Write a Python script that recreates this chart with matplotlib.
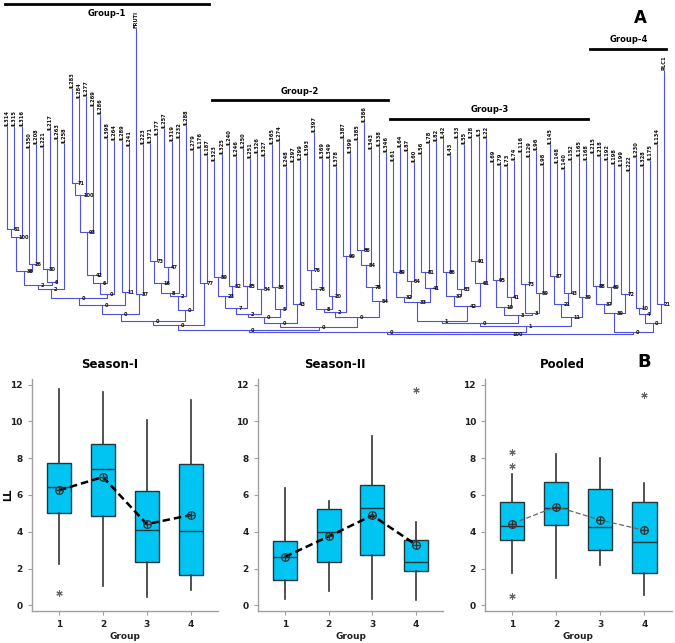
import matplotlib
matplotlib.use("Agg")
import matplotlib.pyplot as plt

# ---- dendrogram data (panel A) ----
leaf_names = ["IL314", "IL315", "IL316", "IL350", "IL208", "IL221", "IL217", "IL263", "IL258",
              "IL283", "IL284", "IL277", "IL269", "IL286", "IL398", "IL264", "IL289", "IL241",
              "FRUTI", "IL223", "IL371", "IL377", "IL257", "IL319", "IL232", "IL288", "IL279",
              "IL176", "IL187", "IL323", "IL325", "IL240", "IL246", "IL250", "IL251", "IL326",
              "IL327", "IL365", "IL274", "IL248", "IL297", "IL299", "IL393", "IL397", "IL369",
              "IL349", "IL378", "IL387", "IL399", "IL385", "IL386", "IL343", "IL338", "IL346",
              "IL61", "IL64", "IL87", "IL60", "IL56", "IL78", "IL82", "IL42", "IL43", "IL33",
              "IL55", "IL28", "IL3", "IL22", "IL69", "IL79", "IL73", "IL74", "IL116", "IL129",
              "IL96", "IL98", "IL145", "IL148", "IL140", "IL152", "IL165", "IL168", "IL215",
              "IL218", "IL192", "IL198", "IL199", "IL222", "IL230", "IL328", "IL175", "IL134",
              "RLC1"]
# depth of each leaf tip, measured down from the top of the panel
leaf_depth = [127, 127, 127, 149, 145, 148, 131, 140, 144,
              89, 99, 97, 107, 115, 139, 141, 141, 147,
              29, 145, 144, 136, 129, 142, 139, 126, 151,
              149, 156, 162, 155, 146, 157, 149, 159, 154,
              157, 145, 142, 167, 163, 161, 156, 133, 159,
              159, 167, 139, 154, 141, 123, 150, 147, 153,
              162, 148, 152, 163, 155, 144, 142, 139, 156, 139,
              145, 139, 137, 139, 163, 166, 167, 161, 153, 158,
              151, 166, 145, 164, 170, 161, 157, 161, 154,
              157, 161, 165, 167, 172, 158, 167, 161, 145,
              71]
# (node, left child, right child, depth of join, bootstrap)
merges = [
    ("A", 0, 1, 229, "61"), ("B", "A", 2, 237, "100"), ("C", 3, 4, 264, "26"),
    ("D", "B", "C", 271, "38"), ("E", 5, 6, 269, "30"), ("F", "E", 7, 282, "6"),
    ("G", "D", "F", 285, "2"), ("H", "G", 8, 289, "2"), ("I", 9, 10, 183, "71"),
    ("J", "I", 11, 195, "100"), ("K", "J", 12, 232, "93"), ("L", "K", 13, 275, "42"),
    ("M", "L", 14, 283, "6"), ("O", "M", 15, 294, "0"), ("N", "H", "O", 298, "0"),
    ("Q", 16, 17, 292, "11"), ("P", "N", "Q", 305, "0"), ("R", 18, 19, 294, "37"),
    ("S", "P", "R", 314, "0"), ("T", 20, 21, 261, "73"), ("U", 22, 23, 267, "47"),
    ("V", "T", "U", 283, "16"), ("W", "V", 24, 293, "8"), ("X", "W", 25, 296, "2"),
    ("Y", "X", 26, 310, "0"), ("Z", "S", "Y", 321, "0"), ("AA", 27, 28, 283, "77"),
    ("AB", "Z", "AA", 325, "0"),
    ("AC", 29, 30, 277, "59"), ("AD", 31, 32, 286, "52"), ("AE", "AC", "AD", 296, "23"),
    ("AF", 33, 34, 286, "85"), ("AG", "AE", "AF", 308, "7"), ("AH", 35, 36, 289, "34"),
    ("AI", "AG", "AH", 314, "2"), ("AJ", 37, 38, 287, "38"), ("AK", "AJ", 39, 309, "5"),
    ("AL", "AI", "AK", 317, "0"), ("AM", 40, 41, 304, "43"), ("AN", "AL", "AM", 323, "0"),
    ("AO", 42, 43, 270, "76"), ("AP", "AO", 44, 289, "76"), ("AQ", 45, 46, 296, "20"),
    ("AR", "AP", "AQ", 309, "8"), ("AT", 47, 48, 256, "99"), ("AS", "AR", "AT", 312, "2"),
    ("AU", 49, 50, 250, "86"), ("AV", "AU", 51, 265, "54"), ("AW", "AV", 52, 287, "78"),
    ("AX", "AW", 53, 301, "54"), ("AY", "AS", "AX", 317, "0"), ("AZ", "AN", "AY", 327, "0"),
    ("CB", "AB", "AZ", 330, "0"),
    ("BA", 54, 55, 272, "89"), ("BB", 56, 57, 281, "64"), ("BC", "BA", "BB", 297, "32"),
    ("BD", 58, 59, 272, "81"), ("BE", "BD", 60, 288, "41"), ("BF", "BC", "BE", 302, "33"),
    ("BG", 61, 62, 272, "86"), ("BH", 63, 64, 289, "83"), ("BI", "BG", "BH", 296, "37"),
    ("BJ", 65, 66, 261, "91"), ("BK", "BJ", 67, 283, "61"), ("BL", "BI", "BK", 306, "42"),
    ("BM", "BF", "BL", 321, "1"), ("BN", 68, 69, 280, "95"), ("BO", 70, 71, 297, "41"),
    ("BP", "BN", "BO", 307, "10"), ("BQ", 72, 73, 284, "73"), ("BR", 74, 75, 293, "59"),
    ("BS", "BQ", "BR", 313, "3"), ("BT", "BP", "BS", 315, "3"), ("BU", "BM", "BT", 323, "0"),
    ("BV", 76, 77, 276, "87"), ("BW", 78, 79, 293, "43"), ("BX", "BV", "BW", 304, "21"),
    ("BY", 80, 81, 297, "39"), ("BZ", "BX", "BY", 317, "11"), ("CA", "BU", "BZ", 326, "1"),
    ("CC", "CB", "CA", 332, "0"),
    ("CD", 82, 83, 286, "88"), ("CE", 84, 85, 287, "69"), ("CF", "CD", "CE", 304, "37"),
    ("CG", 86, 87, 294, "72"), ("CH", "CF", "CG", 313, "39"), ("CI", 88, 89, 308, "10"),
    ("CJ", "CI", 90, 314, "4"), ("CK", 91, 92, 304, "21"), ("CL", "CJ", "CK", 323, "0"),
    ("CM", "CH", "CL", 332, "0"),
    ("ROOT", "CC", "CM", 334, "100"),
]
group_names = ["Group-1", "Group-2", "Group-3", "Group-4"]
group_span = [(0, 28), (29, 53), (54, 81), (82, 92)]
group_bar_depth = [4, 100, 119, 49]
group_text_depth = [14, 91, 110, 40]

# ---- box plot data (panel B), LL by group ----
groups = [1, 2, 3, 4]
s1_low = [2.23, 1.04, 0.46, 0.82]
s1_q1 = [5.04, 4.88, 2.37, 1.64]
s1_med = [6.45, 7.43, 4.09, 4.07]
s1_q3 = [7.74, 8.75, 6.23, 7.67]
s1_high = [11.78, 11.6, 10.1, 11.16]
s1_mean = [6.25, 6.98, 4.42, 4.91]
s1_out = [[0.68], [], [], []]

s2_low = [0.37, 0.78, 0.33, 0.31]
s2_q1 = [1.38, 2.36, 2.73, 1.88]
s2_med = [2.64, 3.97, 5.3, 2.36]
s2_q3 = [3.51, 5.26, 6.52, 3.56]
s2_high = [6.37, 5.69, 9.23, 4.56]
s2_mean = [2.64, 3.75, 4.89, 3.29]
s2_out = [[], [], [], [11.72]]

pl_low = [1.79, 1.47, 2.2, 0.57]
pl_q1 = [3.58, 4.35, 3.01, 1.79]
pl_med = [4.33, 5.28, 4.24, 3.44]
pl_q3 = [5.64, 6.72, 6.34, 5.64]
pl_high = [7.16, 8.2, 8.0, 6.63]
pl_mean = [4.44, 5.37, 4.64, 4.08]
pl_out = [[8.36, 7.56, 0.5], [], [], [11.43]]

W, H = 675, 643
fig = plt.figure(figsize=(W / 100, H / 100), dpi=100)

# ---------------- panel A ----------------
tree_col = "#5050e0"
ax0 = fig.add_axes([0, 1 - 345 / H, 1, 345 / H])
ax0.set_xlim(-1.02, 93.5)
ax0.set_ylim(345, 0)
ax0.axis("off")

xpos = {i: float(i) for i in range(len(leaf_names))}
depth = {i: d for i, d in enumerate(leaf_depth)}
for name, a, b, d, boot in merges:
    ax0.plot([xpos[a], xpos[a], xpos[b], xpos[b]], [depth[a], d, d, depth[b]],
             color=tree_col, lw=0.8)
    xpos[name] = (xpos[a] + xpos[b]) / 2
    depth[name] = d
    ax0.text(xpos[name] + 0.35, d + 0.5, boot, fontsize=3.6, fontweight="bold",
             ha="left", va="center", color="#111111")

for i, nm in enumerate(leaf_names):
    ax0.text(i, leaf_depth[i] - 1, nm, rotation=90, fontsize=3.7, fontweight="bold",
             ha="center", va="bottom", color="#111111")

for nm, (a, b), d, td in zip(group_names, group_span, group_bar_depth, group_text_depth):
    ax0.plot([a - 0.35, b + 0.3], [d, d], color="black", lw=2)
    ax0.text((a + b) / 2, td, nm, fontsize=6, fontweight="bold", ha="center", va="center")

fig.text(640 / W, 1 - 18 / H, "A", fontsize=12, fontweight="bold", ha="center", va="center")

# ---------------- panel B ----------------
panels = [
    ("Season-I", s1_low, s1_q1, s1_med, s1_q3, s1_high, s1_mean, s1_out),
    ("Season-II", s2_low, s2_q1, s2_med, s2_q3, s2_high, s2_mean, s2_out),
    ("Pooled", pl_low, pl_q1, pl_med, pl_q3, pl_high, pl_mean, pl_out),
]
ax_left = [31.7, 257.7, 485]
ax_right = [218, 443.3, 671.7]
title_x = [110, 335, 562]
ax_top, ax_bot = 379, 611

for k, (title, lo, q1, med, q3, hi, mean, out) in enumerate(panels):
    ax = fig.add_axes([ax_left[k] / W, 1 - ax_bot / H,
                       (ax_right[k] - ax_left[k]) / W, (ax_bot - ax_top) / H])
    stats = [dict(whislo=lo[i], q1=q1[i], med=med[i], q3=q3[i], whishi=hi[i],
                  fliers=out[i], mean=mean[i]) for i in range(len(groups))]
    ax.bxp(stats, positions=groups, widths=0.55, patch_artist=True, showcaps=False,
           boxprops=dict(facecolor="#00c4f2", edgecolor="#1d3940", lw=1),
           medianprops=dict(color="#1d3940", lw=1),
           whiskerprops=dict(color="#333333", lw=1.2),
           flierprops=dict(marker=(6, 2, 0), markersize=4.5, markeredgecolor="#666666",
                           markeredgewidth=0.8, linestyle="none"))
    if k < 2:
        ax.plot(groups, mean, color="black", lw=1.8, ls=(0, (3, 1.6)), zorder=4)
    else:
        ax.plot(groups, mean, color="#666666", lw=0.9, ls=(0, (4, 2)), zorder=4)
    ax.plot(groups, mean, "o", mfc="none", mec="#333333", ms=5.5, mew=0.9, zorder=5)
    ax.plot(groups, mean, "+", color="#333333", ms=5.5, mew=0.9, zorder=5)

    ax.set_xlim(0.38, 4.62)
    ax.set_ylim(-0.3, 12.3)
    ax.set_yticks([0, 2, 4, 6, 8, 10, 12])
    ax.set_xticks(groups)
    ax.set_xticklabels([str(g) for g in groups])
    for s in ["top", "right"]:
        ax.spines[s].set_visible(False)
    for s in ["left", "bottom"]:
        ax.spines[s].set_color("#a0a0a0")
        ax.spines[s].set_linewidth(1)
    ax.tick_params(colors="#a0a0a0", labelcolor="#222222", length=3, width=0.8,
                   labelsize=6.5)
    for lab in ax.get_xticklabels() + ax.get_yticklabels():
        lab.set_fontweight("bold")
    ax.set_xlabel("Group", fontsize=6.5, fontweight="bold", color="#222222", labelpad=2)
    fig.text(title_x[k] / W, 1 - 364 / H, title, fontsize=8.5, fontweight="bold",
             ha="center", va="center")

fig.text(8 / W, 1 - 495 / H, "LL", fontsize=7, fontweight="bold", rotation=90,
         ha="center", va="center")
fig.text(644 / W, 1 - 362 / H, "B", fontsize=13, fontweight="bold", ha="center", va="center")

fig.savefig("out.png", dpi=100)
